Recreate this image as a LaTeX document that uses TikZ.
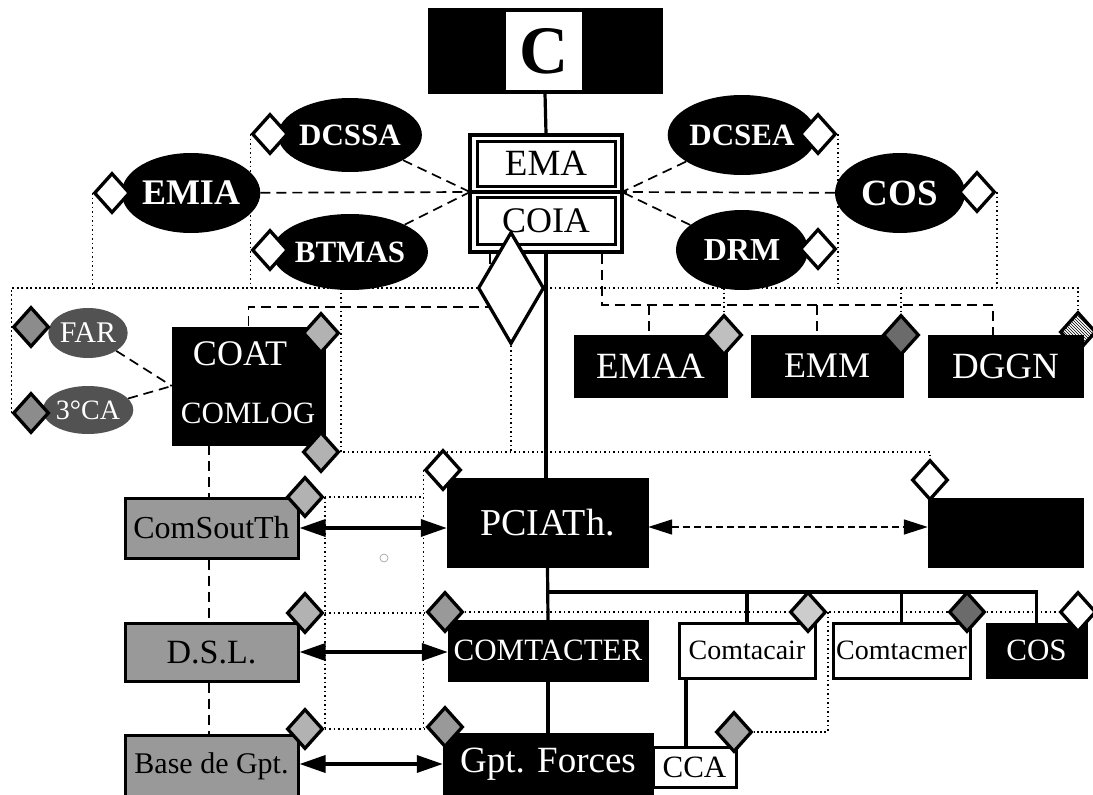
\documentclass[tikz,border=0pt]{standalone}
\usepackage{fontspec}
\setmainfont{Liberation Serif}
\usetikzlibrary{shapes.geometric,arrows.meta,patterns}
\newcommand{\fsz}[1]{\fontsize{#1}{#1}\selectfont}
\pgfdeclarelayer{bg}
\pgfsetlayers{bg,main}
\begin{document}
\begin{tikzpicture}[x=1pt,y=-1pt,
 blackbox/.style={rectangle,fill=black,draw=black,text=white,inner sep=0pt},
 whitebox/.style={rectangle,fill=white,draw=black,line width=3pt,inner sep=0pt},
 graybox/.style={rectangle,fill=black!40,draw=black,line width=3pt,inner sep=0pt,text=black},
 blackell/.style={ellipse,fill=black,text=white,inner sep=0pt},
 grayell/.style={ellipse,fill=black!68,text=white,inner sep=0pt},
 dia/.style={diamond,draw=black,line width=3.3pt,fill=white,inner sep=0pt,minimum width=36pt,minimum height=40pt},
 gdia/.style={dia,fill=black!#1},
 conn/.style={line width=3.2pt},
 dotline/.style={line width=1.7pt,dash pattern=on 1.7pt off 2.8pt},
 dashline/.style={line width=1.7pt,dash pattern=on 10pt off 6pt},
 bigarrow/.style={line width=3.5pt,{Triangle[length=26pt,width=17pt]}-{Triangle[length=26pt,width=17pt]}},
 dasharrow/.style={line width=1.6pt,dash pattern=on 7pt off 4pt,{Triangle[length=24pt,width=15pt]}-{Triangle[length=24pt,width=15pt]}}
]
\useasboundingbox (0,0) rectangle (1093,795);

% ---- top ----
\node[blackbox,minimum width=234pt,minimum height=85pt] (cbox) at (545,50.5) {};
\node[rectangle,fill=white,inner sep=0pt,minimum width=76pt,minimum height=78pt,font=\fsz{68}\bfseries] (cwhite) at (544,51) {C};

\node[rectangle,draw=black,line width=3.5pt,fill=white,inner sep=0pt,minimum width=152pt,minimum height=117pt] (emaouter) at (546,193.5) {};
\node[whitebox,minimum width=138pt,minimum height=45pt,font=\fsz{37}] (ema) at (546,163.5) {EMA};
\node[whitebox,minimum width=138pt,minimum height=47pt,font=\fsz{36}] (coia) at (546,220.5) {COIA};
\draw[line width=4pt] (470,191.5) -- (622,191.5);
\coordinate (jl) at (470,192);
\coordinate (jr) at (622,192);

\node[blackell,minimum width=132pt,minimum height=80pt,font=\fsz{36}\bfseries] (emia) at (191,193) {EMIA};
\node[blackell,minimum width=124pt,minimum height=74pt,font=\fsz{31}\bfseries] (dcssa) at (350,135) {DCSSA};
\node[blackell,minimum width=132pt,minimum height=76pt,font=\fsz{31}\bfseries] (btmas) at (350,252) {BTMAS};
\node[blackell,minimum width=132pt,minimum height=80pt,font=\fsz{31}\bfseries] (dcsea) at (742,135) {DCSEA};
\node[blackell,minimum width=130pt,minimum height=80pt,font=\fsz{37}\bfseries] (cos1) at (900,193) {COS};
\node[blackell,minimum width=132pt,minimum height=80pt,font=\fsz{32}\bfseries] (drm) at (742,250) {DRM};

\node[dia] (demia) at (112,193) {};
\node[dia] (ddcssa) at (270,134) {};
\node[dia] (dbtmas) at (270,250) {};
\node[dia] (ddcsea) at (818,134) {};
\node[dia] (dcos1) at (977,192) {};
\node[dia] (ddrm) at (818,249) {};

\node[dia,minimum width=66pt,minimum height=112pt] (bigd) at (511,288) {};

% ---- middle ----
\node[grayell,minimum width=76pt,minimum height=50pt,font=\fsz{30}] (far) at (88,333) {FAR};
\node[grayell,minimum width=76pt,minimum height=48pt,font=\fsz{28}] (ca3) at (88,410) {3°CA};
\node[gdia=45] (dfar) at (31,327) {};
\node[gdia=45] (dca3) at (31,413) {};

\node[blackbox,minimum width=153pt,minimum height=118pt] (coat) at (248.5,386) {};
\node[text=white,inner sep=0pt,font=\fsz{36}] (coattxt) at (240,354) {COAT};
\node[text=white,inner sep=0pt,font=\fsz{31}] (comlogtxt) at (248,413) {COMLOG};
\node[gdia=30] (dcoat1) at (321,333) {};
\node[gdia=30] (dcoat2) at (321,452) {};

\node[blackbox,minimum width=153pt,minimum height=62pt,font=\fsz{37}] (emaa) at (650.5,366) {EMAA};
\node[blackbox,minimum width=152pt,minimum height=62pt,font=\fsz{36}] (emm) at (827,366) {EMM};
\node[blackbox,minimum width=155pt,minimum height=62pt,font=\fsz{37}] (dggn) at (1005.5,366) {DGGN};
\node[gdia=25] (demaa) at (724,335) {};
\node[gdia=58] (demm) at (901,335) {};
\node[dia,pattern=north west lines,pattern color=black] (ddggn) at (1078,332) {};

\node[blackbox,minimum width=201pt,minimum height=89pt,font=\fsz{38}] (pciath) at (547.5,522.5) {PCIATh.};
\node[blackbox,minimum width=155pt,minimum height=69pt] (unl) at (1005.5,532.5) {};
\node[dia] (dpci) at (443,470) {};
\node[dia] (dunl) at (930,480) {};

% ---- lower left ----
\node[graybox,minimum width=173pt,minimum height=60pt,font=\fsz{32}] (comsouth) at (211.5,528) {ComSoutTh};
\node[graybox,minimum width=173pt,minimum height=58pt,font=\fsz{34}] (dsl) at (211.5,652) {D.S.L.};
\node[graybox,minimum width=173pt,minimum height=62pt,font=\fsz{30}] (base) at (211.5,766) {Base de Gpt.};
\node[gdia=30] (dcst) at (305,497) {};
\node[gdia=30] (ddsl) at (305,613) {};
\node[gdia=30] (dbase) at (305,729) {};

% ---- lower right ----
\node[blackbox,minimum width=200pt,minimum height=61pt,font=\fsz{31}] (comtacter) at (548,650.5) {COMTACTER};
\node[blackbox,minimum width=210pt,minimum height=62pt,font=\fsz{37}] (gpt) at (548,764) {Gpt. Forces};
\node[whitebox,minimum width=136pt,minimum height=55pt,font=\fsz{28}] (comtacair) at (747,650.5) {Comtacair};
\node[whitebox,minimum width=137pt,minimum height=55pt,font=\fsz{28}] (comtacmer) at (901.5,650.5) {Comtacmer};
\node[blackbox,minimum width=101pt,minimum height=55pt,font=\fsz{31}] (cos2) at (1036.5,650.5) {COS};
\node[whitebox,minimum width=83pt,minimum height=40pt,font=\fsz{31}] (cca) at (694.5,767) {CCA};
\node[gdia=40] (dcomt) at (445,612) {};
\node[gdia=40] (dgpt) at (445,727) {};
\node[gdia=20] (dcomtacair) at (808,612) {};
\node[gdia=58] (dcomtacmer) at (967,612) {};
\node[dia] (dcos2) at (1078,612) {};
\node[gdia=35] (dcca) at (734,732) {};

\draw[black!40,line width=0.6pt] (384,558) circle (4);

\begin{pgfonlayer}{bg}
% solid connectors
\draw[conn] (cbox.south) -- (emaouter.north);
\draw[conn] (emaouter.south) -- (emaouter.south |- pciath.north);
\draw[conn] (pciath.south) -- (comtacter.north);
\draw[conn] (comtacter.south) -- (gpt.north);
\coordinate (hb) at (547,592);
\draw[conn] (hb) -- (hb -| cos2.north) -- (cos2.north);
\draw[conn] (hb -| comtacair.north) -- (comtacair.north);
\draw[conn] (hb -| comtacmer.north) -- (comtacmer.north);
\coordinate (ccal) at (686,0);
\draw[conn] (ccal |- comtacair.south) -- (ccal |- cca.north);

% arrows
\draw[bigarrow] (comsouth.east) -- (pciath.west |- comsouth.east);
\draw[bigarrow] (dsl.east) -- (comtacter.west |- dsl.east);
\draw[bigarrow] (base.east |- gpt.west) -- (gpt.west);
\coordinate (ay) at (0,527);
\draw[dasharrow] (pciath.east |- ay) -- (unl.west |- ay);

% dashed
\draw[dashline] (dcssa) -- (jl);
\draw[dashline] (emia) -- (jl);
\draw[dashline] (btmas) -- (jl);
\draw[dashline] (dcsea) -- (jr);
\draw[dashline] (cos1) -- (jr);
\draw[dashline] (drm) -- (jr);
\coordinate (dl) at (490,307);
\draw[dashline] (dl |- emaouter.south) -- (dl) -- (dl -| coat.north) -- (coat.north);
\coordinate (dr) at (602,305);
\coordinate (drx) at (993,305);
\draw[dashline] (dr |- emaouter.south) -- (dr) -- (drx) -- (drx |- dggn.north);
\draw[dashline] (649,305) -- (649,0 |- emaa.north);
\draw[dashline] (817,305) -- (817,0 |- emm.north);
\draw[dashline] (far) -- (coat.west);
\draw[dashline] (ca3) -- (coat.west);
\coordinate (vx) at (209,0);
\draw[dashline] (vx |- coat.south) -- (vx |- comsouth.north);
\draw[dashline] (vx |- comsouth.south) -- (vx |- dsl.north);
\draw[dashline] (vx |- dsl.south) -- (vx |- base.north);

% dotted
\coordinate (hl) at (0,288);
\draw[dotline] (demia.west) -- (demia.west |- hl);
\draw[dotline] (ddcssa.west) -- (ddcssa.west |- hl);
\draw[dotline] (ddcsea.east) -- (ddcsea.east |- hl);
\draw[dotline] (dcos1.east) -- (dcos1.east |- hl);
\draw[dotline] (dca3.west) -- (dca3.west |- hl) -- (bigd.west);
\draw[dotline] (bigd.east) -- (ddggn.north |- hl) -- (ddggn.north);
\draw[dotline] (demaa.north |- hl) -- (demaa.north);
\draw[dotline] (demm.north |- hl) -- (demm.north);
\draw[dotline] (dcoat2.east |- hl) -- (dcoat2.east) -- (dunl.north |- dcoat2.east) -- (dunl.north);
\draw[dotline] (bigd.south) -- (bigd.south |- dcoat2.east);
\draw[dotline] (dcst.east) -- (dbase.east);
\draw[dotline] (dcst.east) -- (dcst.east -| dpci.west);
\draw[dotline] (dpci.west) -- (dpci.west |- dbase.east);
\draw[dotline] (ddsl.east) -- (ddsl.east -| dcomt.west);
\draw[dotline] (dbase.east) -- (dbase.east -| dgpt.west);
\draw[dotline] (dcomt.east) -- (dcos2.west);
\draw[dotline] (dcomtacair.east) -- (dcomtacair.east |- dcca.east) -- (dcca.east);
\end{pgfonlayer}
\end{tikzpicture}
\end{document}
